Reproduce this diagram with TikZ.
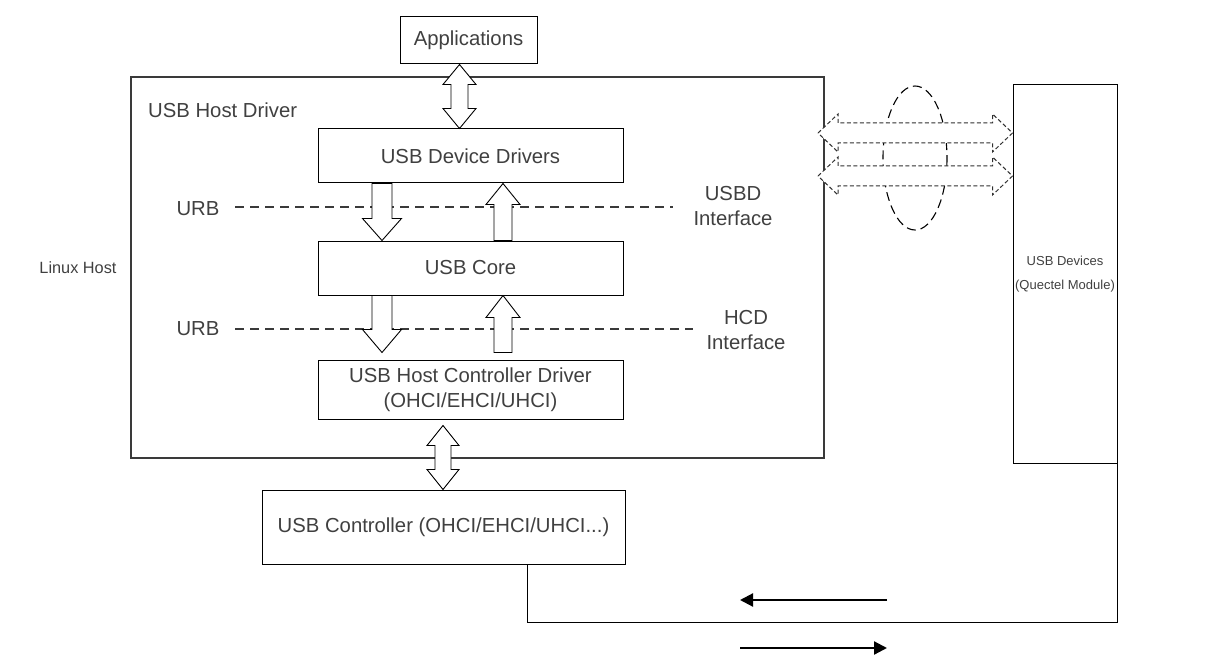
\documentclass[tikz,border=0pt]{standalone}
\usepackage{fontspec}
\setmainfont{Liberation Sans}
\usetikzlibrary{calc,arrows.meta}
\definecolor{txt}{HTML}{404040}
\definecolor{frame}{HTML}{3A3A3A}
\definecolor{dashc}{HTML}{303030}

% vertical double block arrow: shaft half width, head half width, head length, top tip, bottom tip
\newcommand\vdblarrow[5]{%
  \draw[blk] let \p1=#4, \p2=#5 in
    (\x1,\y1) -- (\x1+#2,\y1-#3) -- (\x1+#1,\y1-#3) -- (\x1+#1,\y2+#3) -- (\x1+#2,\y2+#3)
    -- (\x1,\y2) -- (\x1-#2,\y2+#3) -- (\x1-#1,\y2+#3) -- (\x1-#1,\y1-#3) -- (\x1-#2,\y1-#3) -- cycle;}
% horizontal double block arrow: style, shaft half width, head half width, head length, left tip, right tip
\newcommand\hdblarrow[6]{%
  \draw[#1] let \p1=#5, \p2=#6 in
    (\x1,\y1) -- (\x1+#4,\y1+#3) -- (\x1+#4,\y1+#2) -- (\x2-#4,\y1+#2) -- (\x2-#4,\y1+#3)
    -- (\x2,\y1) -- (\x2-#4,\y1-#3) -- (\x2-#4,\y1-#2) -- (\x1+#4,\y1-#2) -- (\x1+#4,\y1-#3) -- cycle;}
% single block arrow pointing down: shaft half width, head half width, head length, tail, tip
\newcommand\vdownarrow[5]{%
  \draw[blk] let \p1=#4, \p2=#5 in
    (\x1-#1,\y1) -- (\x1-#1,\y2+#3) -- (\x1-#2,\y2+#3) -- (\x1,\y2) -- (\x1+#2,\y2+#3)
    -- (\x1+#1,\y2+#3) -- (\x1+#1,\y1) -- cycle;}
% single block arrow pointing up: shaft half width, head half width, head length, tail, tip
\newcommand\vuparrow[5]{%
  \draw[blk] let \p1=#4, \p2=#5 in
    (\x1-#1,\y1) -- (\x1-#1,\y2-#3) -- (\x1-#2,\y2-#3) -- (\x1,\y2) -- (\x1+#2,\y2-#3)
    -- (\x1+#1,\y2-#3) -- (\x1+#1,\y1) -- cycle;}

\begin{document}
\begin{tikzpicture}[x=1pt,y=-1pt,
  font=\fontsize{20.3}{25.5}\selectfont, text=txt,
  box/.style={draw=black, line width=1pt, fill=white, inner sep=0pt, align=center},
  hostbox/.style={draw=frame, line width=1.5pt, inner sep=0pt},
  blk/.style={draw=black, line width=0.9pt, fill=white, line join=miter},
  dblk/.style={draw=dashc, line width=1pt, fill=white, dash pattern=on 4pt off 2.5pt},
  ifline/.style={draw=frame, line width=1.1pt, dash pattern=on 9pt off 6pt},
  oval/.style={draw=black, line width=1.1pt, dash pattern=on 9pt off 5pt},
  flow/.style={line width=2.2pt, -{Triangle[length=13pt,width=13pt]}},
  lbl/.style={inner sep=0pt, align=center}]
\useasboundingbox (0,0) rectangle (1207,655);

% outer host frame and labels
\node[hostbox, minimum width=693pt, minimum height=381pt] (host) at (477.5,267.5) {};
\node[lbl, anchor=west] (hostlbl) at (148,110) {USB Host Driver};
\node[lbl, font=\fontsize{16.3}{20}\selectfont] (linux) at (78,268) {Linux Host};

% software stack
\node[box, minimum width=137pt, minimum height=47pt] (apps) at (468.5,40.5) {Applications};
\node[box, minimum width=305pt, minimum height=54pt] (ddrv) at (470.5,156) {USB Device Drivers};
\node[box, minimum width=305pt, minimum height=54pt] (core) at (470.5,268) {USB Core};
\node[box, minimum width=305pt, minimum height=59pt] (hcd) at (470.5,389.5)
  {USB Host Controller Driver\\(OHCI/EHCI/UHCI)};
\node[box, minimum width=363pt, minimum height=74pt] (ctrl) at (443.5,527)
  {USB Controller (OHCI/EHCI/UHCI...)};
\node[box, minimum width=104pt, minimum height=378pt, font=\fontsize{13}{24}\selectfont]
  (dev) at (1065,274) {USB Devices\\(Quectel Module)};

% interface layers
\coordinate (u1s) at (235,207);
\coordinate (u1e) at (673,207);
\coordinate (u2s) at (235,329);
\coordinate (u2e) at (693,329);
\draw[ifline] (u1s) -- (u1e);
\draw[ifline] (u2s) -- (u2e);
\node[lbl] (urb1) at (198,209) {URB};
\node[lbl] (urb2) at (198,329) {URB};
\node[lbl] (usbd) at (733,206) {USBD\\Interface};
\node[lbl] (hcdif) at (746,330) {HCD\\Interface};

% columns of the block arrows
\coordinate (acol) at (459.5,0);
\coordinate (bcol) at (443,0);
\coordinate (dcol) at (382,0);
\coordinate (ucol) at (503,0);

\vdblarrow{8.5pt}{16.5pt}{20pt}{(acol |- apps.south)}{(acol |- ddrv.north)}
\vdblarrow{8pt}{16pt}{20pt}{($(bcol |- hcd.south)+(0,6)$)}{(bcol |- ctrl.north)}

\vdownarrow{10pt}{19.5pt}{22pt}{(dcol |- ddrv.south)}{(dcol |- core.north)}
\vuparrow{9pt}{17pt}{21pt}{(ucol |- core.north)}{(ucol |- ddrv.south)}
\vdownarrow{10pt}{19.5pt}{23pt}{(dcol |- core.south)}{($(dcol |- hcd.north)+(0,-7)$)}
\vuparrow{9pt}{17pt}{22pt}{($(ucol |- hcd.north)+(0,-7)$)}{(ucol |- core.south)}

% bundle of links between host and devices
\coordinate (ovc) at (915,158);
\draw[oval] (ovc) ellipse [x radius=32, y radius=72];
\coordinate (l1) at (818,133);
\coordinate (l2) at (818,176);
\hdblarrow{dblk}{10pt}{19pt}{20pt}{(l1)}{(dev.west |- l1)}
\hdblarrow{dblk}{10pt}{19pt}{20pt}{(l2)}{(dev.west |- l2)}

% physical bus
\coordinate (c1) at (527,622);
\coordinate (c2) at (dev.south east |- c1);
\draw[line width=1pt] (ctrl.south -| c1) -- (c1) -- (c2) -- (dev.south east);
\coordinate (fa) at (887,600);
\coordinate (fb) at (740,600);
\coordinate (ga) at (740,648);
\coordinate (gb) at (887,648);
\draw[flow] (fa) -- (fb);
\draw[flow] (ga) -- (gb);
\end{tikzpicture}
\end{document}
